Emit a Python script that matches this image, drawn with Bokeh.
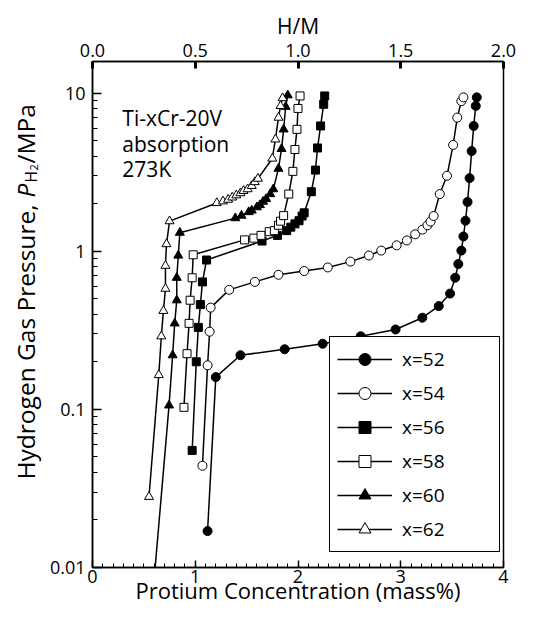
import math
from bokeh.plotting import figure
from bokeh.layouts import row
from bokeh.models import (Range1d, LinearAxis, FixedTicker, SingleIntervalTicker,
                          PrintfTickFormatter, CustomJSTickFormatter,
                          Legend, LegendItem)
from bokeh.embed import file_html
from bokeh.resources import INLINE
from bokeh.core.properties import value

FONT = "Open Sans"
NAN = float("nan")

# ---------------- data (mass%, MPa) ----------------
c52 = [1.12, 1.20, 1.44, 1.87, 2.24, 2.61, 2.95, 3.21, 3.37, 3.48, 3.53, 3.56, 3.59, 3.61, 3.63, 3.65, 3.67, 3.69, 3.71, 3.73, 3.74]
p52 = [0.017, 0.16, 0.22, 0.24, 0.26, 0.29, 0.32, 0.38, 0.45, 0.54, 0.68, 0.83, 1.01, 1.24, 1.56, 2.05, 2.9, 4.3, 6.2, 8.3, 9.4]

c54 = [1.07, 1.12, 1.14, 1.15, 1.33, 1.58, 1.81, 2.06, 2.29, 2.51, 2.69, 2.81, 2.96, 3.06, 3.14, 3.21, 3.26, 3.29, 3.32, 3.38, 3.45, 3.51, 3.55, 3.59, 3.61]
p54 = [0.044, 0.19, 0.31, 0.44, 0.57, 0.64, 0.71, 0.75, 0.79, 0.86, 0.94, 1.01, 1.09, 1.17, 1.28, 1.37, 1.46, 1.54, 1.67, 2.3, 3.0, 4.7, 7.0, 8.9, 9.4]

c56 = [0.97, 1.01, 1.03, 1.05, 1.07, 1.11, 1.65, 1.80, 1.89, 1.93, 1.97, 2.01, 2.04, 2.06, 2.13, 2.17, 2.19, 2.22, 2.25, 2.26]
p56 = [0.055, 0.20, 0.33, 0.46, 0.64, 0.88, 1.16, 1.26, 1.35, 1.42, 1.49, 1.56, 1.67, 1.75, 2.38, 3.26, 4.5, 6.2, 8.5, 9.6]

c58 = [0.89, 0.92, 0.94, 0.95, 0.97, 0.98, 1.48, 1.57, 1.64, 1.72, 1.77, 1.81, 1.83, 1.86, 1.91, 1.95, 1.97, 1.99, 2.00, 2.02]
p58 = [0.103, 0.225, 0.35, 0.49, 0.68, 0.95, 1.18, 1.21, 1.26, 1.33, 1.35, 1.46, 1.55, 1.68, 2.3, 3.2, 4.4, 5.9, 8.0, 9.6]

c60 = [0.57, 0.745, 0.78, 0.80, 0.82, 0.82, 0.835, 0.85, 1.39, 1.45, 1.52, 1.55, 1.60, 1.63, 1.66, 1.69, 1.73, 1.76, 1.81, 1.84, 1.86, 1.88, 1.90]
p60 = [0.005, 0.106, 0.22, 0.35, 0.49, 0.68, 0.94, 1.31, 1.62, 1.68, 1.77, 1.81, 1.90, 1.96, 2.06, 2.14, 2.30, 2.47, 3.33, 4.44, 5.9, 8.2, 9.7]

c62 = [0.55, 0.645, 0.67, 0.69, 0.71, 0.71, 0.72, 0.75, 1.21, 1.27, 1.32, 1.36, 1.40, 1.44, 1.47, 1.51, 1.55, 1.58, 1.61, 1.75, 1.78, 1.81, 1.83, 1.85]
p62 = [0.028, 0.165, 0.29, 0.42, 0.58, 0.81, 1.11, 1.55, 2.02, 2.07, 2.12, 2.19, 2.26, 2.33, 2.41, 2.47, 2.59, 2.74, 2.88, 3.86, 5.1, 7.0, 8.3, 9.3]

labels = ["x=52", "x=54", "x=56", "x=58", "x=60", "x=62"]
bottom_ticks = [0, 1, 2, 3, 4]
top_ticks = [0.0, 0.5, 1.0, 1.5, 2.0]
left_ticks = [0.01, 0.1, 1, 10]
left_minor = [m * 10.0 ** e for e in (-2, -1, 0, 1) for m in range(2, 10)]
note_lines = ["Ti-xCr-20V", "absorption", "273K"]
x_title = "Protium Concentration (mass%)"
y_title_parts = ["Hydrogen Gas Pressure, ", "P", "H", "2", "/MPa"]

series = [
    (c52, p52, "circle", "black", 9, 15),
    (c54, p54, "circle", "white", 9, 15),
    (c56, p56, "square", "black", 8, 13),
    (c58, p58, "square", "white", 8, 13),
    (c60, p60, "triangle", "black", 9, 15),
    (c62, p62, "triangle", "white", 9, 15),
]

# ---------------- layout geometry (page px) ----------------
TOTAL_W, H = 537, 612
LW = 46                     # left strip holding the y title
FL, FT, FR, FB = 90, 61, 503, 567
YMIN_LOG, YMAX_LOG = -2.0, 1.2
DEC = (FB - FT) / (YMAX_LOG - YMIN_LOG)
MW = TOTAL_W - LW


def y_at(py):
    return 10 ** (YMIN_LOG + (FB - py) / DEC)


def x_at(px):
    return (px - FL) / ((FR - FL) / 4.0)


# ---------------- main plot ----------------
p = figure(width=MW, height=H, x_range=Range1d(0, 4), y_range=Range1d(10 ** YMIN_LOG, 10 ** YMAX_LOG),
           y_axis_type="log", output_backend="svg", toolbar_location=None,
           min_border_left=FL - LW, min_border_right=TOTAL_W - FR,
           min_border_top=FT, min_border_bottom=H - FB)
p.background_fill_color = "white"
p.border_fill_color = "white"
p.xgrid.grid_line_color = None
p.ygrid.grid_line_color = None
p.outline_line_color = "black"
p.outline_line_width = 1.5
p.outline_line_alpha = 1

xa = p.xaxis[0]
xa.ticker = SingleIntervalTicker(interval=1, num_minor_ticks=10)
xa.major_tick_in = 7
xa.major_tick_out = 0
xa.minor_tick_in = 4
xa.minor_tick_out = 0
xa.axis_line_width = 1.5
xa.major_tick_line_width = 1.5
xa.major_label_text_font = FONT
xa.major_label_text_font_size = "18px"
xa.major_label_text_color = "black"
xa.major_label_standoff = 2
xa.axis_label = x_title
xa.axis_label_text_font = FONT
xa.axis_label_text_font_size = "22px"
xa.axis_label_text_font_style = "normal"
xa.axis_label_text_color = "black"
xa.axis_label_standoff = -11

ya = p.yaxis[0]
ya.ticker = FixedTicker(ticks=left_ticks, minor_ticks=left_minor)
ya.formatter = CustomJSTickFormatter(code="return String(tick);")
ya.major_tick_in = 9
ya.major_tick_out = 0
ya.minor_tick_in = 5
ya.minor_tick_out = 0
ya.axis_line_width = 1.5
ya.major_tick_line_width = 1.5
ya.major_label_text_font = FONT
ya.major_label_text_font_size = "18px"
ya.major_label_text_color = "black"
ya.major_label_standoff = 7

p.extra_x_ranges = {"hm": Range1d(0, 2)}
ta = LinearAxis(x_range_name="hm", ticker=FixedTicker(ticks=top_ticks),
                formatter=PrintfTickFormatter(format="%.1f"))
ta.major_tick_in = 7
ta.major_tick_out = 0
ta.major_tick_line_width = 3
ta.minor_tick_line_color = None
ta.axis_line_width = 1.5
ta.major_label_text_font = FONT
ta.major_label_text_font_size = "18px"
ta.major_label_text_color = "black"
ta.major_label_standoff = 5
ta.axis_label = "H/M"
ta.axis_label_text_font = FONT
ta.axis_label_text_font_size = "21px"
ta.axis_label_text_font_style = "normal"
ta.axis_label_text_color = "black"
ta.axis_label_standoff = 1
p.add_layout(ta, "above")

for cx, py, marker, fill, sz, _ in series:
    p.line(cx, py, line_color="black", line_width=1.5)
    p.scatter(cx, py, marker=marker, size=sz, fill_color=fill, line_color="black", line_width=1)

items = []
for (cx, py, marker, fill, _, lsz), lab in zip(series, labels):
    lr = p.line([NAN], [NAN], line_color="black", line_width=1.5)
    sr = p.scatter([NAN], [NAN], marker=marker, size=lsz, fill_color=fill, line_color="black", line_width=1)
    items.append(LegendItem(label=lab, renderers=[lr, sr]))
leg = Legend(items=items, location=(327 - FL, FB - 552))
leg.border_line_color = "black"
leg.border_line_width = 1.5
leg.border_line_alpha = 1
leg.background_fill_color = "white"
leg.background_fill_alpha = 1
leg.label_text_font = FONT
leg.label_text_font_size = "19px"
leg.label_text_color = "black"
leg.glyph_width = 55
leg.glyph_height = 30
leg.label_height = 30
leg.label_width = 90
leg.label_standoff = 10
leg.spacing = 4
leg.padding = 7
leg.margin = 0
p.add_layout(leg)

p.text([x_at(120)] * 3, [y_at(117), y_at(143), y_at(168)], text=note_lines,
       text_font=value(FONT), text_font_size="21px",
       text_baseline="alphabetic", text_align="left", text_color="black")

# ---------------- left strip: y title (italic P, subscript H2) ----------------
# its frame spans the same rows as the main frame (FT..FB); data y = H - page row
L = figure(width=LW, height=H, x_range=Range1d(0, LW), y_range=Range1d(H - FB, H - FT),
           output_backend="svg", toolbar_location=None, x_axis_location=None, y_axis_location=None,
           min_border=0, min_border_left=0, min_border_right=0,
           min_border_top=FT, min_border_bottom=H - FB)
L.outline_line_color = None
L.xgrid.grid_line_color = None
L.ygrid.grid_line_color = None
L.background_fill_color = "white"
L.border_fill_color = "white"

ly = lambda py: H - py
tx = 25
pieces = [
    (y_title_parts[0], 479, "normal", "24.5px", 0),
    (y_title_parts[1], 197, "italic", "24.5px", 0),
    (y_title_parts[2], 182, "normal", "15.5px", 5),
    (y_title_parts[3], 170, "normal", "11px", 8),
    (y_title_parts[4], 163, "normal", "24.5px", 0),
]
for txt, py_, style, fs, dx in pieces:
    L.text([tx + dx], [ly(py_)], text=[txt], angle=math.pi / 2, text_align="left",
           text_baseline="middle", text_font=value(FONT), text_font_size=fs,
           text_font_style=style, text_color="black")

layout = row(L, p, spacing=0)
open("out.html", "w").write(file_html(layout, INLINE))
